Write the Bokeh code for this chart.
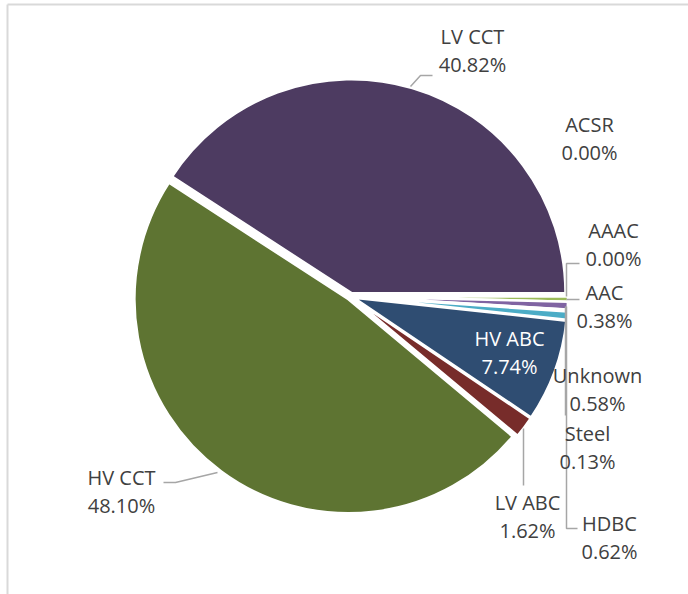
import math
from bokeh.plotting import figure
from bokeh.models import Range1d, ColumnDataSource
from bokeh.core.properties import value
from bokeh.embed import file_html
from bokeh.resources import INLINE

# ---- data (clockwise from 3 o'clock, as in the source pie) ----
categories = ["ACSR", "AAAC", "AAC", "Unknown", "Steel", "HDBC",
              "HV ABC", "LV ABC", "HV CCT", "LV CCT"]
shares = [0.00, 0.00, 0.38, 0.58, 0.13, 0.62, 7.74, 1.62, 48.10, 40.82]
colors = ["#4F81BD", "#C0504D", "#9BBB59", "#8064A2", "#4BACC6", "#4BACC6",
          "#2F4D72", "#772C2A", "#5E7432", "#4D3B61"]

# ---- layout constants (picture pixel coordinates) ----
CX, CY, R, EXPLODE = 350, 296, 214, 3.5
FONT = "Open Sans"
FS = "20px"
TXT = "#404040"
LEAD = "#A6A6A6"

label_pos = {
    "ACSR": (589, 124), "AAAC": (613, 230), "AAC": (604, 292),
    "Unknown": (597, 375), "Steel": (587, 433), "HDBC": (609, 523),
    "HV ABC": (509, 338), "LV ABC": (527, 502), "HV CCT": (121, 477),
    "LV CCT": (472, 36),
}
label_color = {"HV ABC": "#FFFFFF"}
LINE_GAP = 28

leaders = [
    [(410, 86), (420, 75), (432, 75)],          # LV CCT
    [(217, 472), (175, 482), (163, 482)],       # HV CCT
    [(566, 296), (566, 263), (579, 263)],       # AAAC
    [(566, 299), (579, 299)],                   # AAC
    [(565, 306), (565, 415)],                   # Unknown
    [(566, 306), (566, 528), (577, 528)],       # HDBC
    [(523, 428), (523, 485)],                   # LV ABC
]

W, H = 688, 594

p = figure(width=W, height=H, output_backend="svg", toolbar_location=None,
           x_range=Range1d(0, W), y_range=Range1d(-H, 0),
           min_border=0, outline_line_color=None)
p.axis.visible = False
p.grid.visible = False
p.background_fill_color = "white"
p.border_fill_color = "white"

# frame border (left and top, as in the cropped source)
p.line([7, 7], [-H, -4], line_color="#D9D9D9", line_width=2)
p.line([7, W], [-4, -4], line_color="#D9D9D9", line_width=2)

# wedges (zero shares have no visible area and are not drawn)
total = sum(shares)
xs, ys, starts, ends, cols = [], [], [], [], []
cum = 0.0
for cat, v, c in zip(categories, shares, colors):
    a0 = -cum / total * 2 * math.pi
    cum += v
    a1 = -cum / total * 2 * math.pi
    if v <= 0:
        continue
    mid = (a0 + a1) / 2
    xs.append(CX + EXPLODE * math.cos(mid))
    ys.append(-CY + EXPLODE * math.sin(mid))
    starts.append(a1)
    ends.append(a0)
    cols.append(c)

src = ColumnDataSource(dict(x=xs, y=ys, start=starts, end=ends, color=cols))
p.wedge(x="x", y="y", radius=R, start_angle="start", end_angle="end",
        fill_color="color", line_color="white", line_width=2.5, source=src)

# leader lines
p.multi_line(xs=[[pt[0] for pt in l] for l in leaders],
             ys=[[-pt[1] for pt in l] for l in leaders],
             line_color=LEAD, line_width=1.5)

# labels
for cat, v in zip(categories, shares):
    lx, ly = label_pos[cat]
    col = label_color.get(cat, TXT)
    p.text(x=[lx], y=[-ly], text=[cat], text_font=value(FONT),
           text_font_size=FS, text_color=col, text_align="center",
           text_baseline="middle")
    p.text(x=[lx], y=[-(ly + LINE_GAP)], text=[f"{v:.2f}%"], text_font=value(FONT),
           text_font_size=FS, text_color=col, text_align="center",
           text_baseline="middle")

open("out.html", "w").write(file_html(p, INLINE))
